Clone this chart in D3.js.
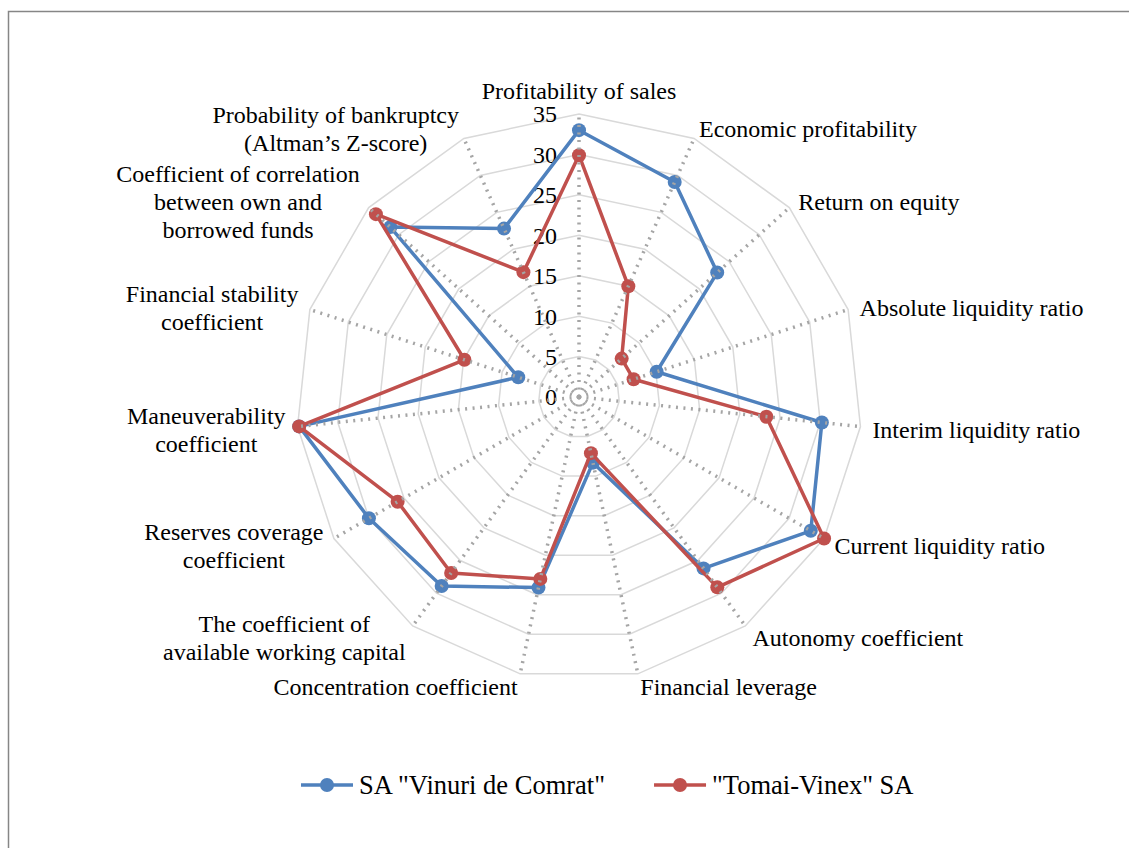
<!DOCTYPE html>
<html>
<head>
<meta charset="utf-8">
<script src="https://cdn.jsdelivr.net/npm/d3@7"></script>
<style>
  body { margin: 0; background: #fff; }
  svg { display: block; font-family: "Liberation Serif", "Times New Roman", serif; }
</style>
</head>
<body>
<svg id="radar" width="1129" height="848"></svg>
<script>
// axes, clockwise from the top
var categories = [
    "Profitability of sales",
    "Economic profitability",
    "Return on equity",
    "Absolute liquidity ratio",
    "Interim liquidity ratio",
    "Current liquidity ratio",
    "Autonomy coefficient",
    "Financial leverage",
    "Concentration coefficient",
    "The coefficient of\navailable working capital",
    "Reserves coverage\ncoefficient",
    "Maneuverability\ncoefficient",
    "Financial stability\ncoefficient",
    "Coefficient of correlation\nbetween own and\nborrowed funds",
    "Probability of bankruptcy\n(Altman\u2019s Z-score)"
];

var seriesNames = ["SA \"Vinuri de Comrat\"", "\"Tomai-Vinex\" SA"];
var vinuri = [33.0, 29.1, 23.0, 10.1, 30.2, 33.1, 26.2, 8.3, 24.1, 28.9, 30.0, 34.8, 7.9, 31.4, 22.8];
var tomai = [29.9, 15.0, 7.1, 7.1, 23.3, 35.0, 29.1, 7.1, 23.0, 26.9, 25.9, 34.8, 14.9, 33.8, 16.9];
var ticks = [0, 5, 10, 15, 20, 25, 30, 35];
var colors = ["#4f81bd", "#c0504d"];

var svg = d3.select("#radar"),
    cx = 579,
    cy = 397,
    radius = 283,
    fontSize = 24,
    legendFont = 26.5;

var series = [vinuri, tomai];

var r = d3.scaleLinear()
    .domain([0, 35])
    .range([0, radius]);

var angle = d3.scaleLinear()
    .domain([0, categories.length])
    .range([0, 2 * Math.PI]);

function px(i, v) { return Math.sin(angle(i)) * r(v); }
function py(i, v) { return -Math.cos(angle(i)) * r(v); }

// outer chart border (runs off the right and bottom of the picture)
svg.append("rect")
    .attr("x", 8.5)
    .attr("y", 11.5)
    .attr("width", 1200)
    .attr("height", 900)
    .attr("fill", "none")
    .attr("stroke", "#868686")
    .attr("stroke-width", 1.5);

var g = svg.append("g")
    .attr("transform", "translate(" + cx + "," + cy + ")");

// rings
g.append("g")
    .attr("class", "rings")
    .selectAll("path")
    .data(ticks.slice(1))
    .enter().append("path")
    .attr("d", function(t) {
        return "M" + categories.map(function(c, i) {
            return [px(i, t), py(i, t)];
        }).join("L") + "Z";
    })
    .attr("fill", "none")
    .attr("stroke", "#d9d9d9")
    .attr("stroke-width", 1.5);

// tick labels
g.append("g")
    .attr("class", "ticks")
    .selectAll("text")
    .data(ticks)
    .enter().append("text")
    .attr("x", -22)
    .attr("y", function(t) { return -r(t); })
    .attr("dy", "0.35em")
    .attr("text-anchor", "end")
    .attr("font-size", fontSize)
    .attr("fill", "#000")
    .text(function(t) { return t; });

// series lines and markers
var line = d3.line()
    .x(function(d, i) { return px(i, d); })
    .y(function(d, i) { return py(i, d); })
    .curve(d3.curveLinearClosed);

var s = g.append("g")
    .attr("class", "series")
    .selectAll("g")
    .data(series)
    .enter().append("g");

s.append("path")
    .attr("d", line)
    .attr("fill", "none")
    .attr("stroke", function(d, k) { return colors[k]; })
    .attr("stroke-width", 3.5)
    .attr("stroke-linejoin", "round");

s.selectAll("circle")
    .data(function(d) { return d; })
    .enter().append("circle")
    .attr("cx", function(d, i) { return px(i, d); })
    .attr("cy", function(d, i) { return py(i, d); })
    .attr("r", 7)
    .attr("fill", function() { return colors[series.indexOf(d3.select(this.parentNode).datum())]; });

// dotted spokes, drawn on top like the original
g.append("g")
    .attr("class", "spokes")
    .selectAll("line")
    .data(categories)
    .enter().append("line")
    .attr("x1", 0)
    .attr("y1", 0)
    .attr("x2", function(d, i) { return px(i, 35); })
    .attr("y2", function(d, i) { return py(i, 35); })
    .attr("stroke", "#a5a5a5")
    .attr("stroke-width", 3.5)
    .attr("stroke-dasharray", "2,5.5");

// category labels
var lineH = 28;
var labels = g.append("g")
    .attr("class", "labels")
    .selectAll("text")
    .data(categories)
    .enter().append("text")
    .attr("font-size", fontSize)
    .attr("fill", "#000")
    .each(function(d, i) {
        var t = d3.select(this),
            parts = d.split("\n"),
            a = angle(i),
            ex = px(i, 35) + 12 * Math.sin(a),
            ey = py(i, 35) - 12 * Math.cos(a) + 1.5;

        t.selectAll("tspan")
            .data(parts)
            .enter().append("tspan")
            .text(function(p) { return p; });

        var widths = [];
        t.selectAll("tspan").each(function() { widths.push(this.getComputedTextLength()); });
        var maxW = d3.max(widths);

        var anchor, x;
        if (i === 0) {
            anchor = "middle"; x = ex; ey = ey - 13;
        } else if (Math.sin(a) > 0) {
            anchor = parts.length > 1 ? "middle" : "start";
            x = parts.length > 1 ? ex + maxW / 2 : ex;
        } else {
            anchor = "middle";
            x = ex - maxW / 2;
        }
        var top = ey - (parts.length - 1) * lineH / 2;
        t.attr("text-anchor", anchor);
        t.selectAll("tspan")
            .attr("x", x)
            .attr("y", function(p, j) { return top + j * lineH; })
            .attr("dy", "0.35em");
    });

// legend
var legend = svg.append("g")
    .attr("class", "legend")
    .attr("transform", "translate(301,785)");

var lx = 0;
seriesNames.forEach(function(name, k) {
    var item = legend.append("g").attr("transform", "translate(" + lx + ",0)");
    item.append("line")
        .attr("x1", 0).attr("x2", 52)
        .attr("y1", 0).attr("y2", 0)
        .attr("stroke", colors[k])
        .attr("stroke-width", 3.5);
    item.append("circle")
        .attr("cx", 26).attr("cy", 0).attr("r", 7)
        .attr("fill", colors[k]);
    var txt = item.append("text")
        .attr("x", 58)
        .attr("dy", "0.35em")
        .attr("font-size", legendFont)
        .attr("fill", "#000")
        .text(name);
    lx += 58 + txt.node().getComputedTextLength() + 49;
});
</script>
</body>
</html>
